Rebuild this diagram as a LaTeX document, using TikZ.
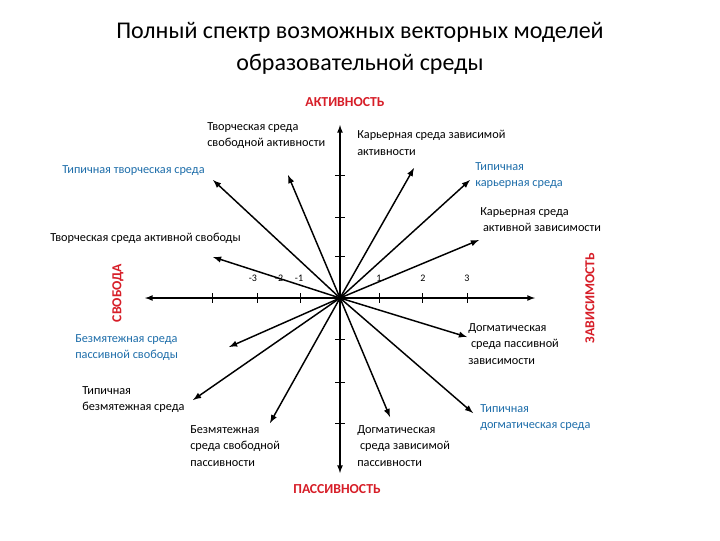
\documentclass[tikz,border=0pt]{standalone}
\usepackage{fontspec}
\setmainfont{Carlito}
\definecolor{tblue}{RGB}{30,110,170}
\definecolor{tred}{RGB}{215,30,40}
\begin{document}
\begin{tikzpicture}[x=0.75pt,y=-0.75pt,
  lbl/.style={font=\fontsize{9.2}{12.4}\selectfont,align=left,anchor=north west,inner sep=0pt},
  blbl/.style={lbl,text=tblue},
  ax/.style={line width=1pt,-latex},
  vec/.style={line width=1.1pt,-latex},
  axname/.style={font=\bfseries\fontsize{10.3}{12}\selectfont,text=tred,inner sep=0pt},
  tk/.style={line width=0.6pt},
  tnum/.style={font=\fontsize{7.5}{9}\selectfont,inner sep=0pt}]
\useasboundingbox[fill=white] (0,0) rectangle (720,540);
\node[font=\fontsize{18}{24}\selectfont,align=center] (title) at (360,48) {Полный спектр возможных векторных моделей\\образовательной среды};
\coordinate (o) at (340,298);
\coordinate (top) at (340,125); \coordinate (bot) at (340,473);
\coordinate (lft) at (145,298); \coordinate (rgt) at (535,298);
\draw[ax] (o) -- (top); \draw[ax] (o) -- (bot);
\draw[ax] (o) -- (lft); \draw[ax] (o) -- (rgt);
\foreach \y in {175,217,256,339,382,423} \draw[tk] (335,\y) -- (345,\y);
\foreach \x in {212,257,300,379,422,467} \draw[tk] (\x,293) -- (\x,303);
\node[tnum] (n1) at (253,278) {-3};
\node[tnum] (n2) at (279,278) {-2};
\node[tnum] (n3) at (299,278) {-1};
\node[tnum] (n4) at (379,278) {1};
\node[tnum] (n5) at (423,278) {2};
\node[tnum] (n6) at (467,278) {3};
\foreach \p in {(213,180),(288,175),(414,168),(470,180),(479,240),(213,257),(467,337),(473,413),(390,417),(270,423),(193,400),(229,347)}
  \draw[vec] (o) -- \p;
\node[axname] (act) at (345,102) {АКТИВНОСТЬ};
\node[axname] (pas) at (337,489) {ПАССИВНОСТЬ};
\node[axname,rotate=90] (svo) at (118,293) {СВОБОДА};
\node[axname,rotate=90] (zav) at (590,298) {ЗАВИСИМОСТЬ};
\node[lbl] (a) at (207,122) {Творческая среда\\свободной активности};
\node[lbl] (b) at (357,130) {Карьерная среда  зависимой\\активности};
\node[blbl] (c) at (62,165) {Типичная творческая среда};
\node[blbl] (d) at (475,162) {Типичная\\карьерная среда};
\node[lbl] (e) at (480,207) {Карьерная среда\\\ активной зависимости};
\node[lbl] (f) at (50,233) {Творческая среда активной свободы};
\node[blbl] (g) at (75,334) {Безмятежная среда\\пассивной свободы};
\node[lbl] (h) at (82,386) {Типичная\\безмятежная среда};
\node[lbl] (i) at (190,425) {Безмятежная\\среда свободной\\пассивности};
\node[lbl] (j) at (357,425) {Догматическая\\\ среда  зависимой\\пассивности};
\node[lbl] (k) at (468,323) {Догматическая\\\ среда  пассивной\\зависимости};
\node[blbl] (l) at (480,404) {Типичная\\догматическая среда};
\end{tikzpicture}
\end{document}
